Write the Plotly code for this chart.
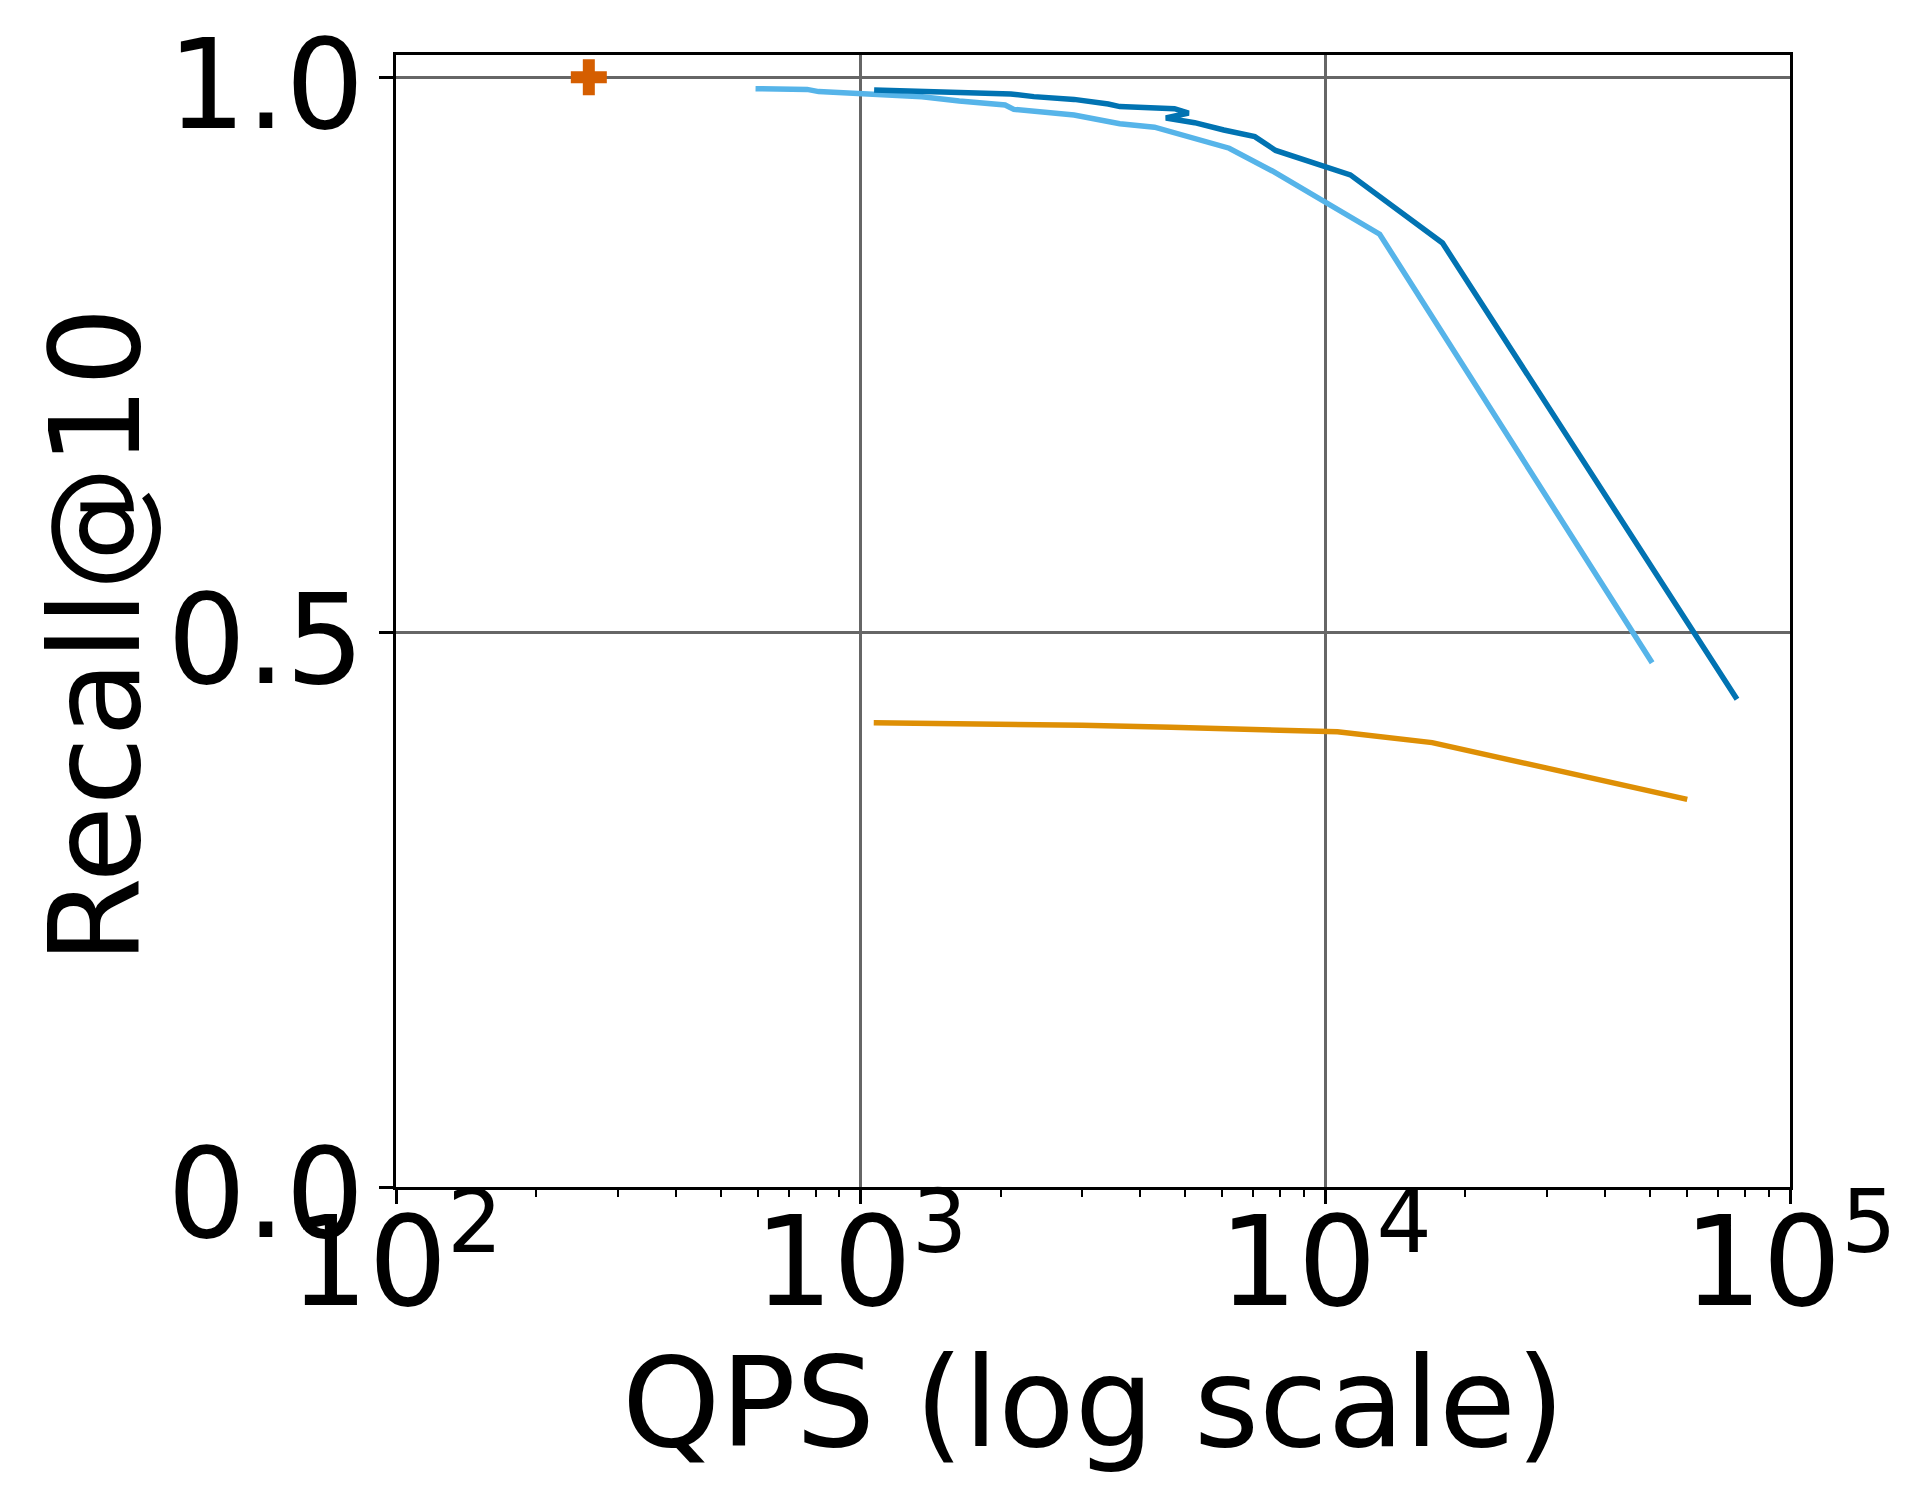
import plotly.graph_objects as go

# QPS vs recall curves
dark_qps = [1069, 1374, 2104, 2359, 2879, 3411, 3612, 4735, 5080, 4538, 5233, 6045, 7050, 7816, 11320, 17870, 76900]
dark_recall = [0.9885, 0.9876, 0.9849, 0.9825, 0.980, 0.9758, 0.9735, 0.9716, 0.9677, 0.9632, 0.959, 0.9524, 0.9464, 0.934, 0.912, 0.8506, 0.4395]

light_qps = [594, 767, 812, 1005, 1355, 1630, 2046, 2136, 2879, 3612, 4289, 6210, 7690, 13090, 50500]
light_recall = [0.9897, 0.989, 0.987, 0.985, 0.9824, 0.9786, 0.975, 0.971, 0.966, 0.958, 0.955, 0.936, 0.9155, 0.8585, 0.4723]

orange_qps = [1067, 1410, 2099, 2994, 4654, 6935, 10620, 16980, 60100]
orange_recall = [0.4184, 0.4178, 0.4172, 0.416, 0.4142, 0.4124, 0.4103, 0.4004, 0.3493]

point_qps = [260]
point_recall = [1.0]

x_tickvals = [100, 1000, 10000, 100000]
x_ticktext = ["10<sup>2</sup>", "10<sup>3</sup>", "10<sup>4</sup>", "10<sup>5</sup>"]
y_tickvals = [0.0, 0.5, 1.0]
y_ticktext = ["0.0", "0.5", "1.0"]

FONT = "DejaVu Sans"

fig = go.Figure()

fig.add_trace(go.Scatter(x=light_qps, y=light_recall, mode="lines",
                         line=dict(color="#56b4e9", width=5.5)))
fig.add_trace(go.Scatter(x=dark_qps, y=dark_recall, mode="lines",
                         line=dict(color="#0173b2", width=5.5)))
fig.add_trace(go.Scatter(x=orange_qps, y=orange_recall, mode="lines",
                         line=dict(color="#de8f05", width=5.5)))
fig.add_trace(go.Scatter(x=point_qps, y=point_recall, mode="markers",
                         marker=dict(symbol="cross", size=30, color="#d55e00")))

minor_x = [m * 10 ** e for e in range(2, 5) for m in range(2, 10)]

axis_style = dict(
    ticks="outside",
    ticklen=14,
    tickwidth=2.5,
    tickcolor="black",
    showgrid=True,
    gridcolor="#666666",
    gridwidth=2.5,
    showline=True,
    linecolor="black",
    linewidth=2.5,
    mirror=True,
    zeroline=False,
    automargin=False,
    ticklabeloverflow="allow",
    tickfont=dict(family=FONT, size=124, color="black"),
)

fig.update_xaxes(
    type="log",
    range=[2, 5],
    tickvals=x_tickvals,
    ticktext=x_ticktext,
    ticklabelstandoff=-48,
    minor=dict(tickmode="array", tickvals=minor_x, ticks="outside", ticklen=7,
               tickwidth=2, tickcolor="black", showgrid=False),
    **axis_style,
)
fig.update_yaxes(
    range=[0, 1.02],
    tickvals=y_tickvals,
    ticktext=y_ticktext,
    ticklabelstandoff=-10,
    ticklabelshift=7,
    **axis_style,
)

# axis titles as annotations so they sit where the reference has them
fig.add_annotation(text="QPS (log scale)", xref="paper", yref="paper",
                   x=0.5, y=-0.19, xanchor="center", yanchor="middle",
                   showarrow=False, font=dict(family=FONT, size=125, color="black"))
fig.add_annotation(text="Recall@10", xref="paper", yref="paper",
                   x=-0.216, y=0.4876, xanchor="center", yanchor="middle",
                   textangle=-90, showarrow=False,
                   font=dict(family=FONT, size=125, color="black"))

# the page body adds an 8px offset, margins compensate for it
fig.update_layout(
    width=1925,
    height=1505,
    margin=dict(l=388, r=143, t=47, b=326),
    plot_bgcolor="white",
    paper_bgcolor="white",
    showlegend=False,
    font=dict(family=FONT, color="black"),
)

fig.write_html("out.html")
